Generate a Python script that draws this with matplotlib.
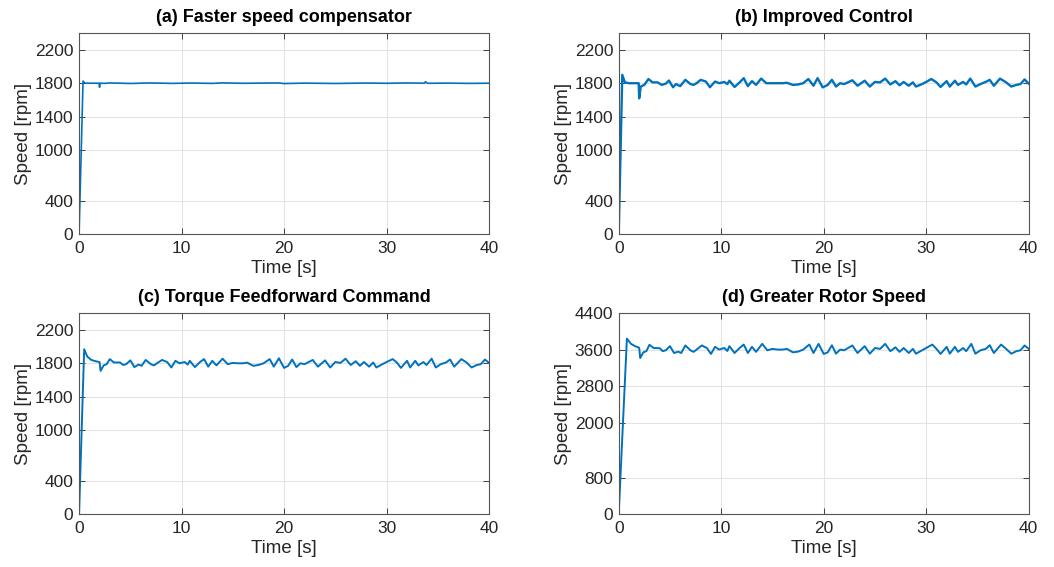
import matplotlib
matplotlib.use('Agg')
import matplotlib.pyplot as plt

plt.rcParams['font.family'] = ['Liberation Sans', 'DejaVu Sans']

# (a) Faster speed compensator
t_a = [0, 0.39, 0.6, 1.0, 1.5, 1.95, 2.0, 2.05, 2.5, 3.0, 5.0, 7.0, 9.0, 11.0,
       13.0, 14.0, 16.0, 19.5, 20.0, 22.0, 25.0, 28.0, 30.0, 32.0, 33.7, 33.8,
       34.0, 36.0, 38.0, 40.0]
spd_a = [0, 1825, 1800, 1800, 1800, 1800, 1752, 1800, 1798, 1803, 1797, 1803,
         1798, 1802, 1798, 1804, 1799, 1803, 1796, 1801, 1797, 1802, 1799, 1803,
         1800, 1818, 1799, 1801, 1798, 1800]

# (b) Improved Control
t_b = [0, 0.35, 0.6, 1.0, 1.5, 1.95, 2.0, 2.15, 2.5, 2.9, 3.3, 3.8, 4.2, 4.6,
       4.9, 5.3, 5.6, 6.0, 6.5, 7.0, 7.3, 7.6, 8.0, 8.5, 8.9, 9.4, 9.8, 10.3,
       10.6, 10.8, 11.3, 11.8, 12.2, 12.6, 13.0, 13.4, 13.9, 14.4, 15.0, 15.5,
       16.0, 16.4, 17.0, 17.5, 18.0, 18.5, 19.0, 19.4, 19.9, 20.4, 20.8, 21.2,
       21.6, 22.0, 22.8, 23.3, 24.0, 24.5, 25.0, 25.5, 26.0, 26.5, 27.0, 27.4,
       27.8, 28.3, 28.7, 29.0, 29.6, 30.0, 30.5, 31.0, 31.4, 32.0, 32.3, 32.8,
       33.1, 33.6, 33.9, 34.3, 34.8, 35.3, 35.8, 36.2, 36.6, 37.2, 37.8, 38.3,
       38.8, 39.2, 39.6, 40.0]
spd_b = [0, 1900, 1810, 1800, 1800, 1800, 1620, 1760, 1780, 1850, 1810, 1810,
         1780, 1795, 1832, 1752, 1790, 1765, 1840, 1790, 1780, 1800, 1840, 1820,
         1752, 1820, 1800, 1815, 1790, 1830, 1755, 1810, 1860, 1765, 1825, 1780,
         1855, 1800, 1800, 1800, 1800, 1805, 1780, 1785, 1800, 1850, 1770, 1860,
         1750, 1780, 1840, 1760, 1800, 1790, 1835, 1770, 1830, 1760, 1815, 1810,
         1855, 1785, 1825, 1775, 1815, 1770, 1810, 1760, 1790, 1815, 1850, 1810,
         1755, 1825, 1760, 1830, 1780, 1815, 1785, 1855, 1760, 1790, 1815, 1840,
         1770, 1855, 1810, 1760, 1780, 1790, 1845, 1795]

# (c) Torque Feedforward Command
t_c = [0, 0.5, 0.8, 1.2, 1.6, 2.0, 2.1, 2.4, 2.7, 3.0, 3.4, 4.0, 4.3, 4.6, 5.0,
       5.4, 5.8, 6.1, 6.5, 7.0, 7.3, 7.6, 8.1, 8.6, 9.0, 9.4, 9.8, 10.3, 10.6,
       10.8, 11.3, 11.8, 12.2, 12.6, 13.0, 13.4, 14.0, 14.5, 15.0, 15.5, 16.0,
       16.4, 17.0, 17.5, 18.0, 18.6, 19.0, 19.5, 20.0, 20.4, 20.8, 21.2, 21.6,
       22.0, 22.8, 23.3, 24.0, 24.5, 25.0, 25.5, 26.0, 26.5, 27.0, 27.4, 27.8,
       28.3, 28.7, 29.0, 29.6, 30.0, 30.6, 31.0, 31.4, 32.0, 32.3, 32.8, 33.1,
       33.6, 33.9, 34.4, 34.8, 35.3, 35.8, 36.2, 36.6, 37.3, 37.8, 38.3, 38.8,
       39.2, 39.6, 40.0]
spd_c = [0, 1968, 1880, 1840, 1825, 1815, 1710, 1775, 1790, 1850, 1810, 1810,
         1780, 1790, 1835, 1755, 1785, 1770, 1840, 1790, 1775, 1800, 1840, 1815,
         1750, 1830, 1800, 1815, 1785, 1830, 1755, 1815, 1850, 1760, 1830, 1775,
         1855, 1790, 1805, 1800, 1800, 1808, 1770, 1780, 1800, 1850, 1760, 1860,
         1745, 1770, 1845, 1755, 1800, 1790, 1840, 1760, 1835, 1750, 1815, 1805,
         1855, 1780, 1825, 1770, 1815, 1760, 1810, 1750, 1790, 1815, 1850, 1810,
         1745, 1830, 1750, 1830, 1775, 1815, 1780, 1855, 1750, 1790, 1810, 1845,
         1760, 1850, 1810, 1750, 1780, 1790, 1845, 1805]

# (d) Greater Rotor Speed
t_d = [0, 0.8, 1.2, 1.6, 2.0, 2.1, 2.4, 2.7, 3.0, 3.4, 4.0, 4.3, 4.6, 5.0, 5.4,
       5.8, 6.1, 6.5, 7.0, 7.3, 7.6, 8.1, 8.6, 9.0, 9.4, 9.8, 10.3, 10.6, 10.8,
       11.3, 11.8, 12.2, 12.6, 13.0, 13.4, 14.0, 14.5, 15.0, 15.5, 16.0, 16.4,
       17.0, 17.5, 18.0, 18.6, 19.0, 19.5, 20.0, 20.4, 20.8, 21.2, 21.6, 22.0,
       22.8, 23.3, 24.0, 24.5, 25.0, 25.5, 26.0, 26.5, 27.0, 27.4, 27.8, 28.3,
       28.7, 29.0, 29.6, 30.0, 30.6, 31.0, 31.4, 32.0, 32.3, 32.8, 33.1, 33.6,
       33.9, 34.4, 34.8, 35.3, 35.8, 36.2, 36.6, 37.3, 37.8, 38.3, 38.8, 39.2,
       39.6, 40.0]
spd_d = [0, 3840, 3725, 3675, 3640, 3415, 3540, 3565, 3705, 3635, 3630, 3565,
         3585, 3675, 3525, 3555, 3525, 3690, 3585, 3550, 3600, 3690, 3635, 3505,
         3660, 3600, 3635, 3570, 3675, 3525, 3635, 3710, 3525, 3660, 3550, 3725,
         3585, 3615, 3600, 3600, 3615, 3540, 3555, 3600, 3710, 3525, 3725, 3505,
         3540, 3695, 3510, 3600, 3585, 3690, 3525, 3675, 3510, 3635, 3615, 3725,
         3565, 3650, 3550, 3635, 3525, 3615, 3510, 3585, 3635, 3710, 3615, 3505,
         3660, 3510, 3660, 3550, 3635, 3565, 3725, 3510, 3585, 3615, 3695, 3525,
         3710, 3615, 3510, 3565, 3585, 3690, 3615]

titles = ['(a) Faster speed compensator', '(b) Improved Control',
          '(c) Torque Feedforward Command', '(d) Greater Rotor Speed']
yticks_low = [0, 400, 1000, 1400, 1800, 2200]
yticks_high = [0, 800, 2000, 2800, 3600, 4400]
xticks = [0, 10, 20, 30, 40]

series = [(t_a, spd_a, 1.2), (t_b, spd_b, 1.7), (t_c, spd_c, 1.4), (t_d, spd_d, 1.4)]
ylims = [2400, 2400, 2400, 4400]
yticks = [yticks_low, yticks_low, yticks_low, yticks_high]

# axes boxes [left, bottom, width, height] in figure fractions
boxes = [[0.075, 0.587, 0.389, 0.355],
         [0.587, 0.587, 0.389, 0.355],
         [0.075, 0.093, 0.389, 0.355],
         [0.587, 0.093, 0.389, 0.355]]

fig = plt.figure(figsize=(10.54, 5.67), dpi=100)
txt = '#262626'

for i in range(4):
    ax = fig.add_axes(boxes[i])
    t, s, lw = series[i]
    ax.plot(t, s, color='#0072BD', linewidth=lw)
    ax.set_xlim(0, 40)
    ax.set_ylim(0, ylims[i])
    ax.set_xticks(xticks)
    ax.set_yticks(yticks[i])
    ax.grid(True, color='#E3E3E3', linewidth=0.8)
    ax.set_axisbelow(True)
    ax.tick_params(direction='in', length=4, width=0.6, top=True, right=True,
                   labelsize=12.5, colors=txt)
    ax.tick_params(axis='x', pad=5)
    ax.tick_params(axis='y', pad=4)
    for sp in ax.spines.values():
        sp.set_color('#555555')
        sp.set_linewidth(0.8)
    ax.set_title(titles[i], fontsize=13, fontweight='bold', color='black', pad=8)
    ax.set_xlabel('Time [s]', fontsize=13.5, color=txt, labelpad=3)
    ax.set_ylabel('Speed [rpm]', fontsize=13.5, color=txt, labelpad=2)

fig.savefig('out.png', dpi=100)
